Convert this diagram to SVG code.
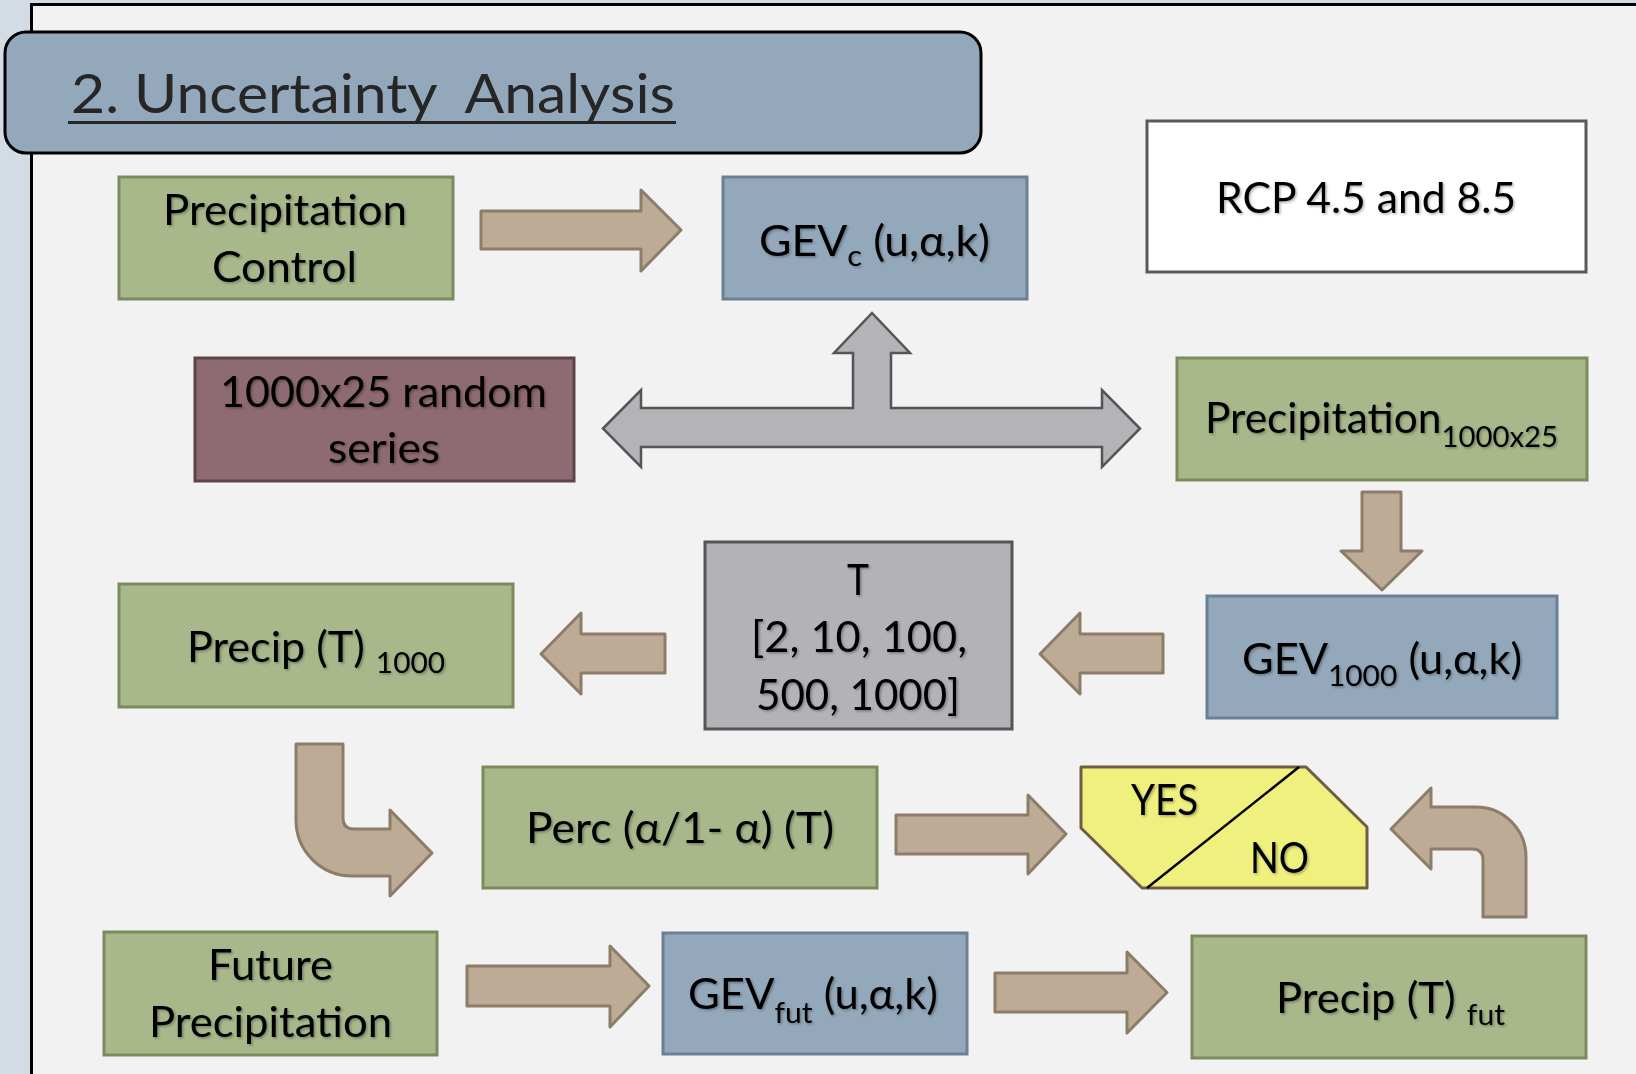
<svg xmlns="http://www.w3.org/2000/svg" width="1636" height="1074" viewBox="0 0 1636 1074">
  <defs>
    <filter id="sh" x="-10%" y="-30%" width="120%" height="160%">
      <feDropShadow dx="1.5" dy="1.5" stdDeviation="1" flood-color="#000" flood-opacity="0.3"/>
    </filter>
    <style>
      .green { fill:#a8b88b; stroke:#7b8b5e; stroke-width:3; }
      .blue { fill:#93a9bb; stroke:#6b8095; stroke-width:3; }
      .gray { fill:#b2b2b7; stroke:#555555; stroke-width:3; }
      .mauve { fill:#8e6a72; stroke:#5f434a; stroke-width:3; }
      .white { fill:#ffffff; stroke:#595959; stroke-width:3; }
      .yn { fill:#eff07e; stroke:#6e5d45; stroke-width:3; stroke-linejoin:round; }
      .tan { fill:#bdab96; stroke:#8c7d68; stroke-width:3; stroke-linejoin:round; }
      .garrow { fill:#b3b3b8; stroke:#555555; stroke-width:2.5; stroke-linejoin:miter; }
      .t { font-family: Lato, "Open Sans", "DejaVu Sans", sans-serif; font-size:42px; fill:#000000; filter:url(#sh); }
      .sub { font-size:29px; }
    </style>
  </defs>

  <!-- background and frame -->
  <rect x="0" y="0" width="1636" height="1074" fill="#d3dce5"/>
  <rect x="31.5" y="4.5" width="1700" height="1200" fill="#f2f2f2" stroke="#000000" stroke-width="3"/>

  <!-- title -->
  <g id="title">
    <rect x="5" y="32" width="976" height="121" rx="21" ry="21" fill="#93a9bb" stroke="#000000" stroke-width="3"/>
    <text x="71" y="113" xml:space="preserve" textLength="604" lengthAdjust="spacingAndGlyphs" style="font-family: Lato, 'Open Sans', sans-serif; font-size:54px; fill:#262626;">2. Uncertainty  Analysis</text>
    <line x1="68" y1="122.5" x2="676" y2="122.5" stroke="#262626" stroke-width="3"/>
  </g>

  <!-- connectors -->
  <g id="connectors">
    <path id="a-ctrl-gevc" class="tan" d="M481,211 L641,211 L641,190 L681,230 L641,271 L641,249 L481,249 Z"/>
    <path id="a-random-3way" class="garrow" d="M603,428.5 L641,390 L641,408 L853,408 L853,353 L834,353 L872,313 L910,353 L891,353 L891,408 L1102,408 L1102,390 L1140,428.5 L1102,467 L1102,447 L641,447 L641,467 Z"/>
    <path id="a-p1000x25-gev1000" class="tan" d="M1362,492 L1401,492 L1401,551 L1422,551 L1382,590 L1341,551 L1362,551 Z"/>
    <path id="a-gev1000-t" class="tan" d="M1163,634 L1080,634 L1080,613 L1040,654 L1080,694 L1080,673 L1163,673 Z"/>
    <path id="a-t-precip1000" class="tan" d="M665,634 L581,634 L581,613 L541,654 L581,694 L581,673 L665,673 Z"/>
    <path id="a-precip1000-perc" class="tan" d="M296,744 L343,744 L343,818 Q343,829 354,829 L390,829 L390,810 L432,853 L390,896 L390,876 L352,876 A56,56 0 0 1 296,820 Z"/>
    <path id="a-perc-yn" class="tan" d="M896,815 L1028,815 L1028,795 L1066,834 L1028,874 L1028,854 L896,854 Z"/>
    <path id="a-fut-gevfut" class="tan" d="M467,966 L610,966 L610,946 L649,986 L610,1027 L610,1006 L467,1006 Z"/>
    <path id="a-gevfut-precipfut" class="tan" d="M995,973 L1127,973 L1127,952 L1167,992.5 L1127,1033 L1127,1012 L995,1012 Z"/>
    <path id="a-precipfut-yn" class="tan" d="M1483,917 L1526,917 L1526,857 A50,50 0 0 0 1476,807 L1431,807 L1431,788 L1391,829 L1431,869 L1431,849 L1472,849 Q1483,849 1483,860 Z"/>
  </g>

  <!-- nodes -->
  <g id="precip-control">
    <rect class="green" x="119" y="177" width="334" height="122"/>
    <text class="t" x="163" y="225" textLength="244" lengthAdjust="spacingAndGlyphs">Precipitation</text>
    <text class="t" x="212" y="282" textLength="145" lengthAdjust="spacingAndGlyphs">Control</text>
  </g>

  <g id="gev-c">
    <rect class="blue" x="723" y="177" width="304" height="122"/>
    <text class="t" x="759" y="256" textLength="231" lengthAdjust="spacingAndGlyphs">GEV<tspan class="sub" dy="10">c</tspan><tspan dy="-10"> (u,α,k)</tspan></text>
  </g>

  <g id="rcp">
    <rect class="white" x="1147" y="121" width="439" height="151"/>
    <text class="t" x="1216" y="213" textLength="300" lengthAdjust="spacingAndGlyphs">RCP 4.5 and 8.5</text>
  </g>

  <g id="random-series">
    <rect class="mauve" x="195" y="358" width="379" height="123"/>
    <text class="t" x="220" y="407" textLength="327" lengthAdjust="spacingAndGlyphs">1000x25 random</text>
    <text class="t" x="328" y="463" textLength="112" lengthAdjust="spacingAndGlyphs">series</text>
  </g>

  <g id="precip-1000x25">
    <rect class="green" x="1177" y="358" width="410" height="122"/>
    <text class="t" x="1205" y="433" textLength="353" lengthAdjust="spacingAndGlyphs">Precipitation<tspan class="sub" dy="14">1000x25</tspan></text>
  </g>

  <g id="return-periods">
    <rect class="gray" x="705" y="542" width="307" height="187"/>
    <text class="t" x="847" y="595" textLength="22" lengthAdjust="spacingAndGlyphs">T</text>
    <text class="t" x="751" y="652" textLength="216" lengthAdjust="spacingAndGlyphs">[2, 10, 100,</text>
    <text class="t" x="756" y="710" textLength="204" lengthAdjust="spacingAndGlyphs">500, 1000]</text>
  </g>

  <g id="gev-1000">
    <rect class="blue" x="1207" y="596" width="350" height="122"/>
    <text class="t" x="1242" y="674" textLength="280" lengthAdjust="spacingAndGlyphs">GEV<tspan class="sub" dy="12">1000</tspan><tspan dy="-12"> (u,α,k)</tspan></text>
  </g>

  <g id="precip-t-1000">
    <rect class="green" x="119" y="584" width="394" height="123"/>
    <text class="t" x="187" y="662" textLength="258" lengthAdjust="spacingAndGlyphs">Precip (T) <tspan class="sub" dy="11">1000</tspan></text>
  </g>

  <g id="perc">
    <rect class="green" x="483" y="767" width="394" height="121"/>
    <text class="t" x="526" y="843" textLength="308" lengthAdjust="spacingAndGlyphs">Perc (α/1- α) (T)</text>
  </g>

  <g id="yes-no">
    <polygon class="yn" points="1081,767 1306,767 1367,827 1367,888 1142,888 1081,828"/>
    <line x1="1299" y1="767" x2="1147" y2="888" stroke="#000000" stroke-width="2.5"/>
    <text class="t" x="1131" y="815" textLength="67" lengthAdjust="spacingAndGlyphs">YES</text>
    <text class="t" x="1250" y="873" textLength="59" lengthAdjust="spacingAndGlyphs">NO</text>
  </g>

  <g id="future-precip">
    <rect class="green" x="104" y="932" width="333" height="123"/>
    <text class="t" x="208" y="980" textLength="125" lengthAdjust="spacingAndGlyphs">Future</text>
    <text class="t" x="149" y="1037" textLength="243" lengthAdjust="spacingAndGlyphs">Precipitation</text>
  </g>

  <g id="gev-fut">
    <rect class="blue" x="663" y="933" width="304" height="121"/>
    <text class="t" x="688" y="1009" textLength="250" lengthAdjust="spacingAndGlyphs">GEV<tspan class="sub" dy="14">fut</tspan><tspan dy="-14"> (u,α,k)</tspan></text>
  </g>

  <g id="precip-t-fut">
    <rect class="green" x="1192" y="936" width="394" height="122"/>
    <text class="t" x="1276" y="1013" textLength="229" lengthAdjust="spacingAndGlyphs">Precip (T) <tspan class="sub" dy="12">fut</tspan></text>
  </g>
</svg>
